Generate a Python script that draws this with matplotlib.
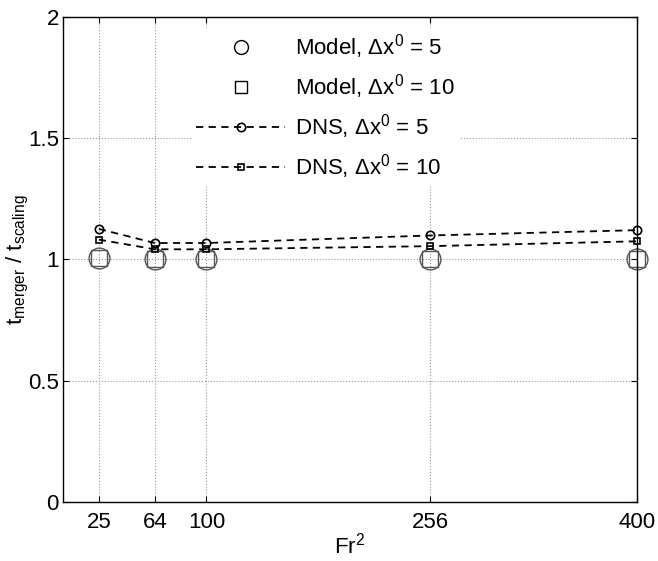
import matplotlib
matplotlib.use('Agg')
import numpy as np
import matplotlib.pyplot as plt

plt.rcParams['font.family'] = ['Liberation Sans', 'DejaVu Sans']
plt.rcParams['mathtext.fontset'] = 'custom'
plt.rcParams['mathtext.rm'] = 'Liberation Sans'
plt.rcParams['mathtext.it'] = 'Liberation Sans'

# data
fr2 = [25, 64, 100, 256, 400]
model_5 = [1.007, 1.0, 1.0, 1.0, 1.0]
model_10 = [1.007, 1.0, 1.0, 1.0, 1.0]
dns_5 = [1.126, 1.068, 1.068, 1.099, 1.121]
dns_10 = [1.082, 1.042, 1.042, 1.055, 1.075]
xticks = [25, 64, 100, 256, 400]
yticks = [0, 0.5, 1, 1.5, 2]

fig = plt.figure(figsize=(6.58, 5.61), dpi=100)
ax = fig.add_axes([0.0957, 0.1052, 0.8723, 0.8645])

ax.plot(fr2, model_5, 'o', ms=15, mfc='none', mec='#555555', mew=1.0,
        clip_on=False, label=r'Model, $\Delta$x$^0$ = 5')
ax.plot(fr2, model_10, 's', ms=11, mfc='none', mec='#555555', mew=1.0,
        clip_on=False, label=r'Model, $\Delta$x$^0$ = 10')
ax.plot(fr2, dns_5, '--o', color='k', ms=6, mfc='none', mew=1.2, lw=1.3,
        dashes=(4, 3), clip_on=False, label=r'DNS, $\Delta$x$^0$ = 5')
ax.plot(fr2, dns_10, '--s', color='k', ms=5, mfc='none', mew=1.2, lw=1.3,
        dashes=(4, 3), clip_on=False, label=r'DNS, $\Delta$x$^0$ = 10')

ax.set_xlim(0, 400)
ax.set_ylim(0, 2)
ax.set_xticks(xticks)
ax.set_yticks(yticks)
ax.set_yticklabels(['0', '0.5', '1', '1.5', '2'])
ax.tick_params(direction='in', top=True, right=True, labelsize=16, length=4, pad=3)
ax.tick_params(axis='x', pad=7)
ax.grid(True, linestyle=':', color='#999999', lw=0.8)
for s in ax.spines.values():
    s.set_linewidth(1.0)
ax.set_xlabel(r'Fr$^2$', fontsize=16, labelpad=0)
ax.set_ylabel(r't$_{\mathrm{merger}}$ / t$_{\mathrm{scaling}}$', fontsize=16, labelpad=-2)

leg = ax.legend(loc='upper left', bbox_to_anchor=(0.205, 1.0), fontsize=16,
                handlelength=4, handletextpad=0.45, labelspacing=0.5,
                frameon=True, framealpha=1, edgecolor='none', fancybox=False,
                borderpad=0.2)
leg.legend_handles[0].set_markersize(10)
leg.legend_handles[0].set_markeredgecolor('k')
leg.legend_handles[1].set_markersize(9)
leg.legend_handles[1].set_markeredgecolor('k')

fig.savefig('out.png', dpi=100)
